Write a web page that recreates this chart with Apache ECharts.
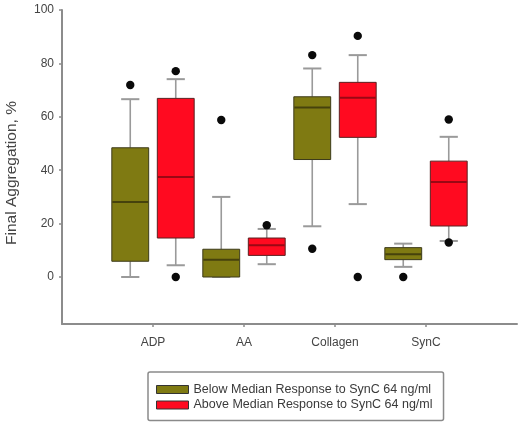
<!DOCTYPE html>
<html>
<head>
<meta charset="utf-8">
<script src="https://cdn.jsdelivr.net/npm/echarts@6/dist/echarts.min.js"></script>
<style>html,body{margin:0;padding:0;background:#fff}#c{width:520px;height:428px}</style>
</head>
<body>
<div id="c"></div>
<script>
// Categories (padded with empty slots at both ends so groups sit like the original)
var categories = ['', 'ADP', 'AA', 'Collagen', 'SynC', ''];
var yTickValues = [0, 20, 40, 60, 80, 100];
var seriesNames = ['Below Median Response to SynC 64 ng/ml', 'Above Median Response to SynC 64 ng/ml'];
// [lower whisker, Q1, median, Q3, upper whisker] for ADP, AA, Collagen, SynC
var belowBoxes = [
  [0, 5.9, 28.1, 48.4, 66.6],
  [0, 0, 6.5, 10.4, 30],
  [19, 44, 63.5, 67.5, 78.1],
  [3.8, 6.5, 8.5, 11, 12.5]
];
var aboveBoxes = [
  [4.4, 14.6, 37.5, 66.9, 74.1],
  [4.8, 8.1, 11.9, 14.6, 18],
  [27.3, 52.3, 67.1, 72.9, 83.1],
  [13.5, 19.1, 35.6, 43.4, 52.5]
];
// outliers: [category name, value]
var belowOutliers = [['ADP', 71.9], ['AA', 58.8], ['Collagen', 83.1], ['Collagen', 10.6], ['SynC', 0]];
var aboveOutliers = [['ADP', 77.1], ['ADP', 0], ['AA', 19.4], ['Collagen', 90.3], ['Collagen', 0], ['SynC', 59], ['SynC', 12.9]];

var colors = {
  below: {fill: '#7f7a12', border: '#3c3a1a', median: '#46420c'},
  above: {fill: '#ff0a20', border: '#5a2020', median: '#9a0814'}
};

function boxData(arr) {
  return arr.map(function (d, i) { return [i + 1].concat(d); });
}
function outlierData(arr) {
  return arr.map(function (d) { return [categories.indexOf(d[0]), d[1]]; });
}

function makeBoxRender(side, col) {
  return function (params, api) {
    var idx = api.value(0);
    var band = api.size([1, 0])[0];
    var cx = api.coord([idx, 0])[0] + side * band * 0.25;
    var w = band * 0.405;
    var capW = band * 0.2;
    var yMin = api.coord([idx, api.value(1)])[1];
    var yQ1 = api.coord([idx, api.value(2)])[1];
    var yMed = api.coord([idx, api.value(3)])[1];
    var yQ3 = api.coord([idx, api.value(4)])[1];
    var yMax = api.coord([idx, api.value(5)])[1];
    var wStyle = {stroke: '#9a9a9a', lineWidth: 1.6};
    return {
      type: 'group',
      children: [
        {type: 'line', shape: {x1: cx, y1: yQ3, x2: cx, y2: yMax}, style: wStyle},
        {type: 'line', shape: {x1: cx, y1: yQ1, x2: cx, y2: yMin}, style: wStyle},
        {type: 'line', shape: {x1: cx - capW / 2, y1: yMax, x2: cx + capW / 2, y2: yMax}, style: {stroke: '#9a9a9a', lineWidth: 2}},
        {type: 'line', shape: {x1: cx - capW / 2, y1: yMin, x2: cx + capW / 2, y2: yMin}, style: {stroke: '#9a9a9a', lineWidth: 2}},
        {type: 'rect', shape: {x: cx - w / 2, y: yQ3, width: w, height: yQ1 - yQ3},
          style: {fill: col.fill, stroke: col.border, lineWidth: 1}},
        {type: 'line', shape: {x1: cx - w / 2 + 0.5, y1: yMed, x2: cx + w / 2 - 0.5, y2: yMed}, style: {stroke: col.median, lineWidth: 2}}
      ]
    };
  };
}

function makeDotRender(side) {
  return function (params, api) {
    var idx = api.value(0);
    var band = api.size([1, 0])[0];
    var p = api.coord([idx, api.value(1)]);
    return {type: 'circle', shape: {cx: p[0] + side * band * 0.25, cy: p[1], r: 4.2}, style: {fill: '#0a0a0a'}};
  };
}

var chart = echarts.init(document.getElementById('c'), null, {renderer: 'canvas'});
chart.setOption({
  animation: false,
  backgroundColor: '#fff',
  textStyle: {fontFamily: 'Liberation Sans, Arial, sans-serif'},
  grid: {left: 62, right: 3, top: 10, bottom: 104, containLabel: false, outerBoundsMode: 'none'},
  legend: {
    orient: 'vertical',
    left: 148, top: 372,
    padding: [11, 11, 9, 8],
    itemGap: 2.5,
    itemWidth: 32, itemHeight: 8,
    icon: 'rect',
    borderColor: '#8a8a8a', borderWidth: 1.5, borderRadius: 2,
    textStyle: {fontSize: 12.5, color: '#3a3a3a', padding: [0, 0, 0, 0]},
    data: [
      {name: seriesNames[0], itemStyle: {color: colors.below.fill, borderColor: '#333', borderWidth: 1}},
      {name: seriesNames[1], itemStyle: {color: colors.above.fill, borderColor: '#333', borderWidth: 1}}
    ]
  },
  xAxis: {
    type: 'category',
    data: categories,
    boundaryGap: false,
    axisLine: {onZero: false, lineStyle: {color: '#8c8c8c', width: 2}},
    axisTick: {show: true, length: 3, interval: function (i) { return i >= 1 && i <= 4; }, lineStyle: {color: '#8c8c8c', width: 1.5}},
    axisLabel: {interval: 0, color: '#444', fontSize: 12, margin: 13},
    splitLine: {show: false}
  },
  yAxis: {
    type: 'value',
    min: -17.6, max: 100,
    name: 'Final Aggregation, %',
    nameLocation: 'middle',
    nameGap: 42,
    nameTextStyle: {fontSize: 15.5, color: '#444', padding: [0, 0, 0, -12]},
    axisLine: {show: true, onZero: false, lineStyle: {color: '#8c8c8c', width: 2}},
    axisTick: {show: true, length: 3, customValues: yTickValues, lineStyle: {color: '#8c8c8c', width: 1.5}},
    axisLabel: {customValues: yTickValues, color: '#444', fontSize: 12, margin: 8},
    splitLine: {show: false}
  },
  series: [
    {name: seriesNames[0], type: 'custom', renderItem: makeBoxRender(-1, colors.below), data: boxData(belowBoxes),
      encode: {x: 0, y: [1, 2, 3, 4, 5]}, itemStyle: {color: colors.below.fill}, z: 2},
    {name: seriesNames[1], type: 'custom', renderItem: makeBoxRender(1, colors.above), data: boxData(aboveBoxes),
      encode: {x: 0, y: [1, 2, 3, 4, 5]}, itemStyle: {color: colors.above.fill}, z: 2},
    {name: seriesNames[0], type: 'custom', renderItem: makeDotRender(-1), data: outlierData(belowOutliers),
      encode: {x: 0, y: 1}, itemStyle: {color: colors.below.fill}, z: 3},
    {name: seriesNames[1], type: 'custom', renderItem: makeDotRender(1), data: outlierData(aboveOutliers),
      encode: {x: 0, y: 1}, itemStyle: {color: colors.above.fill}, z: 3}
  ]
});
</script>
</body>
</html>
